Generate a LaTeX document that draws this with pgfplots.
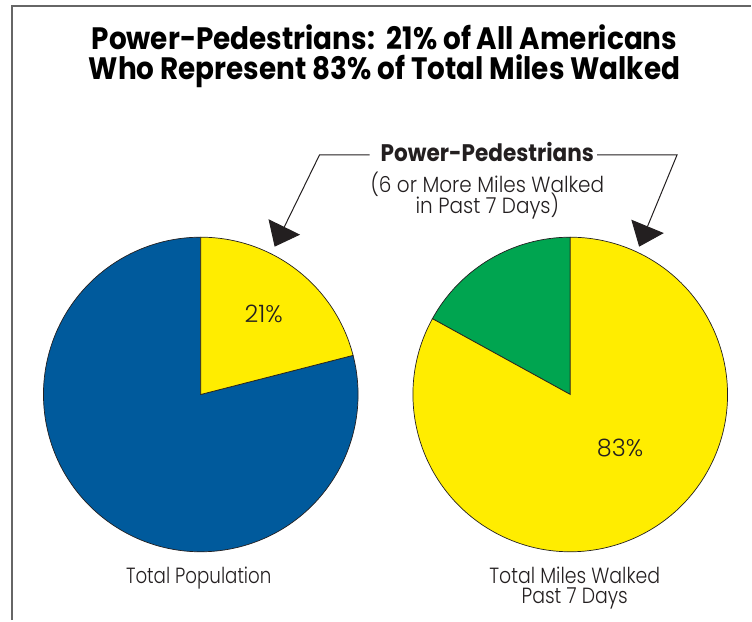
\documentclass[border=0pt]{standalone}
\usepackage{pgfplots}
\pgfplotsset{compat=1.18}
\usetikzlibrary{arrows.meta}
\usepackage{fontspec}
\newfontfamily\titlefont{Poppins}[FakeStretch=0.9]
\newfontfamily\bodyfont{Poppins Light}[FakeStretch=0.83]
\newfontfamily\subfont{Poppins Light}[FakeStretch=0.91]
\newfontfamily\milesfont{Poppins Light}[FakeStretch=0.86]
\newfontfamily\pctfont{Poppins Light}[FakeStretch=1.0]
\definecolor{pblue}{RGB}{0,90,156}
\definecolor{pyellow}{RGB}{255,237,0}
\definecolor{pgreen}{RGB}{0,165,80}
\definecolor{ptext}{RGB}{35,31,32}
% shares (percent), slices start at 12 o'clock
\def\leftPower{21}   % Total Population: power-pedestrians
\def\rightPower{83}  % Total Miles Walked: power-pedestrians
\begin{document}
\begin{tikzpicture}
\begin{axis}[
  scale only axis, width=752pt, height=621pt,
  xmin=0, xmax=752, ymin=0, ymax=621,
  hide axis, clip=false]
\path (axis cs:0,0) rectangle (axis cs:752,621);
% frame
\draw[line width=2pt, black!60] (axis cs:12,0) -- (axis cs:12,615) -- (axis cs:752,615);
% left pie
\pgfmathsetmacro{\la}{90-3.6*\leftPower}
\filldraw[fill=pblue, draw=ptext, line width=0.7pt] (axis cs:201,226) -- (axis cs:{201+157.5*cos(\la)},{226+157.5*sin(\la)}) arc[start angle=\la, end angle=-270, radius=157.5pt] -- cycle;
\filldraw[fill=pyellow, draw=ptext, line width=0.7pt] (axis cs:201,226) -- (axis cs:201,383.5) arc[start angle=90, end angle=\la, radius=157.5pt] -- cycle;
% right pie
\pgfmathsetmacro{\ra}{90+3.6*(100-\rightPower)}
\filldraw[fill=pgreen, draw=ptext, line width=0.7pt] (axis cs:571,226) -- (axis cs:571,383.5) arc[start angle=90, end angle=\ra, radius=157.5pt] -- cycle;
\filldraw[fill=pyellow, draw=ptext, line width=0.7pt] (axis cs:571,226) -- (axis cs:{571+157.5*cos(\ra)},{226+157.5*sin(\ra)}) arc[start angle=\ra, end angle=450, radius=157.5pt] -- cycle;
% pie labels
\node[anchor=base, text=ptext, font=\pctfont\fontsize{24}{26}\selectfont] at (axis cs:264,298) {\leftPower\%};
\node[anchor=base, text=ptext, font=\pctfont\fontsize{24}{26}\selectfont] at (axis cs:621,164) {\rightPower\%};
% titles
\node[anchor=base, font=\titlefont\bfseries\fontsize{31}{33}\selectfont] at (axis cs:385,571) {Power-Pedestrians:\ \ 21\% of All Americans};
\node[anchor=base, font=\titlefont\bfseries\fontsize{31}{33}\selectfont] at (axis cs:385,541) {Who Represent 83\% of Total Miles Walked};
% callout
\node[anchor=base, text=ptext, font=\titlefont\bfseries\fontsize{24}{26}\selectfont] at (axis cs:488,459) {Power-Pedestrians};
\node[anchor=base, text=ptext, font=\subfont\fontsize{22}{24}\selectfont] at (axis cs:488,428) {(6 or More Miles Walked};
\node[anchor=base, text=ptext, font=\subfont\fontsize{22}{24}\selectfont] at (axis cs:488,407) {in Past 7 Days)};
\draw[ptext, line width=1pt, -{Triangle[length=22pt,width=35pt]}] (axis cs:370,466) -- (axis cs:320,466) -- (axis cs:275,374);
\draw[ptext, line width=1pt, -{Triangle[length=22pt,width=35pt]}] (axis cs:598,466) -- (axis cs:678,466) -- (axis cs:640,374);
% bottom labels
\node[anchor=base, text=ptext, font=\bodyfont\fontsize{22}{24}\selectfont] at (axis cs:199,37) {Total Population};
\node[anchor=base, text=ptext, font=\milesfont\fontsize{22}{24}\selectfont] at (axis cs:575.5,37) {Total Miles Walked};
\node[anchor=base, text=ptext, font=\milesfont\fontsize{22}{24}\selectfont] at (axis cs:575.5,17) {Past 7 Days};
\end{axis}
\end{tikzpicture}
\end{document}
